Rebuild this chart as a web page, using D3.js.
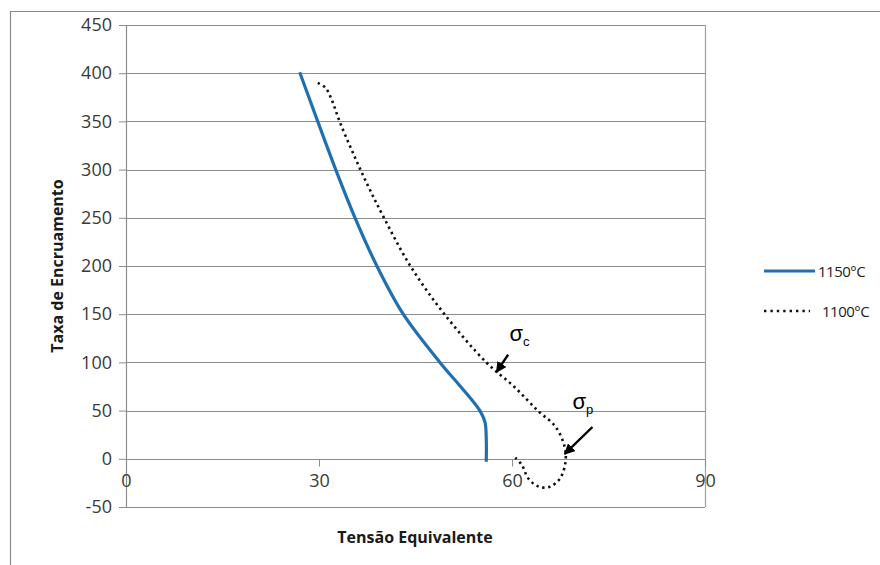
<!DOCTYPE html>
<html>
<head>
<meta charset="utf-8">
<script src="https://cdn.jsdelivr.net/npm/d3@7"></script>
<style>
  body { margin: 0; background: #fff; }
  svg { display: block; font-family: 'Open Sans', sans-serif; }
</style>
</head>
<body>
<svg id="chart" width="880" height="565"></svg>
<script>
// Data
const yTicks = [-50, 0, 50, 100, 150, 200, 250, 300, 350, 400, 450];
const xTicks = [0, 30, 60, 90];

// 1150°C curve (x = Tensão Equivalente, y = Taxa de Encruamento)
const x1150 = [27.0, 29.8, 32.6, 35.6, 39.0, 43.1, 48.8, 52.0, 55.0, 55.8, 56.0, 56.0];
const y1150 = [401, 350, 300, 250, 200, 150, 100, 75, 50, 38, 20, -3];

// 1100°C curve
const x1100 = [29.8, 31.0, 32.0, 33.2, 35.3, 37.7, 40.1, 44.2, 49.5, 56.0, 60.3, 64.0, 66.8, 68.2, 68.3, 67.5, 65.9, 64.2, 62.6, 61.5, 60.5];
const y1100 = [390, 385, 372, 350, 317, 282, 250, 200, 150, 100, 75, 50, 33, 12, -4, -20, -29, -29, -21, -6, 1];

const seriesNames = ['1150°C', '1100°C'];

// Annotations: arrow tail, arrow tip, label position (data units)
const notes = [
  { main: 'σ', sub: 'c', tail: [59.4, 108], tip: [57.6, 90], label: [59.6, 122] },
  { main: 'σ', sub: 'p', tail: [72.5, 33], tip: [68.2, 5], label: [69.4, 52] },
];

const svg = d3.select('#chart');
const margin = { top: 25, right: 175, bottom: 58, left: 126 };
const width = 880 - margin.left - margin.right;
const height = 565 - margin.top - margin.bottom;

const x = d3.scaleLinear().domain([0, 90]).range([0, width]);
const y = d3.scaleLinear().domain([-50, 450]).range([height, 0]);

// outer frame (top and left edges visible)
svg.append('path')
  .attr('d', 'M10.5,565 V11.5 H880')
  .attr('fill', 'none')
  .attr('stroke', '#8a8a8a')
  .attr('stroke-width', 1.2);

const g = svg.append('g').attr('transform', `translate(${margin.left},${margin.top})`);

// horizontal gridlines
g.append('g')
  .selectAll('line')
  .data(yTicks)
  .join('line')
  .attr('x1', 0)
  .attr('x2', width)
  .attr('y1', (d) => Math.round(y(d)) + 0.5)
  .attr('y2', (d) => Math.round(y(d)) + 0.5)
  .attr('stroke', '#8c8c8c')
  .attr('stroke-width', 1.2);

// right border of plot
g.append('line')
  .attr('x1', width + 0.5).attr('x2', width + 0.5)
  .attr('y1', 0).attr('y2', height)
  .attr('stroke', '#a0a0a0')
  .attr('stroke-width', 1.2);

// y axis (plain hyphen for negatives, like the original)
const yAxis = d3.axisLeft(y).tickValues(yTicks).tickFormat((d) => String(d))
  .tickSize(7).tickPadding(7);
const yG = g.append('g').call(yAxis);
yG.select('.domain').attr('stroke', '#8c8c8c').attr('stroke-width', 1.2);
yG.selectAll('.tick line').attr('stroke', '#8c8c8c');
yG.selectAll('.tick text')
  .attr('font-size', 18)
  .attr('fill', '#3a3a3a')
  .attr('font-family', "'Open Sans', sans-serif");

// x axis sits on y = 0
const xAxis = d3.axisBottom(x).tickValues(xTicks).tickSize(7).tickPadding(8);
const xG = g.append('g')
  .attr('transform', `translate(0,${Math.round(y(0)) + 0.5})`)
  .call(xAxis);
xG.select('.domain').remove();
xG.selectAll('.tick line').attr('stroke', '#8c8c8c');
xG.selectAll('.tick text')
  .attr('font-size', 18)
  .attr('fill', '#3a3a3a')
  .attr('font-family', "'Open Sans', sans-serif");

// curves
const line = d3.line()
  .x((d) => x(d[0]))
  .y((d) => y(d[1]))
  .curve(d3.curveCatmullRom.alpha(0.5));

g.append('path')
  .datum(d3.zip(x1150, y1150))
  .attr('fill', 'none')
  .attr('stroke', '#1f70b3')
  .attr('stroke-width', 3.2)
  .attr('d', line);

g.append('path')
  .datum(d3.zip(x1100, y1100))
  .attr('fill', 'none')
  .attr('stroke', '#111')
  .attr('stroke-width', 2.6)
  .attr('stroke-dasharray', '2.4,3.6')
  .attr('d', line);

// annotations
svg.append('defs').append('marker')
  .attr('id', 'arrow')
  .attr('viewBox', '0 0 10 10')
  .attr('refX', 9)
  .attr('refY', 5)
  .attr('markerWidth', 4.5)
  .attr('markerHeight', 4.5)
  .attr('orient', 'auto')
  .append('path')
  .attr('d', 'M0,0 L10,5 L0,10 Z')
  .attr('fill', '#000');

notes.forEach((n) => {
  g.append('line')
    .attr('x1', x(n.tail[0])).attr('y1', y(n.tail[1]))
    .attr('x2', x(n.tip[0])).attr('y2', y(n.tip[1]))
    .attr('stroke', '#000')
    .attr('stroke-width', 2.4)
    .attr('marker-end', 'url(#arrow)');

  const t = g.append('text')
    .attr('x', x(n.label[0]))
    .attr('y', y(n.label[1]))
    .attr('font-family', "'Liberation Sans', sans-serif")
    .attr('font-size', 22)
    .attr('fill', '#000');
  t.append('tspan').text(n.main);
  t.append('tspan')
    .attr('font-size', 13)
    .attr('dy', 5)
    .text(n.sub);
});

// axis titles
svg.append('text')
  .attr('transform', 'translate(63,266) rotate(-90)')
  .attr('text-anchor', 'middle')
  .attr('font-size', 16)
  .attr('font-weight', 'bold')
  .attr('fill', '#1a1a1a')
  .text('Taxa de Encruamento');

svg.append('text')
  .attr('x', 415)
  .attr('y', 543)
  .attr('text-anchor', 'middle')
  .attr('font-size', 16)
  .attr('font-weight', 'bold')
  .attr('fill', '#1a1a1a')
  .text('Tensão Equivalente');

// legend
const legend = svg.append('g').attr('transform', 'translate(764,271)');
const legendItems = legend.selectAll('g')
  .data(seriesNames)
  .join('g')
  .attr('transform', (d, i) => `translate(0,${i * 40})`);

legendItems.append('line')
  .attr('x1', 0)
  .attr('x2', (d, i) => (i === 0 ? 51 : 46))
  .attr('stroke', (d, i) => (i === 0 ? '#1f70b3' : '#111'))
  .attr('stroke-width', (d, i) => (i === 0 ? 3.2 : 2.4))
  .attr('stroke-dasharray', (d, i) => (i === 0 ? null : '2.4,4'));

legendItems.append('text')
  .attr('x', (d, i) => (i === 0 ? 54 : 58))
  .attr('y', 5.5)
  .attr('font-size', 15)
  .attr('fill', '#222')
  .attr('letter-spacing', -0.5)
  .text((d) => d);
</script>
</body>
</html>
